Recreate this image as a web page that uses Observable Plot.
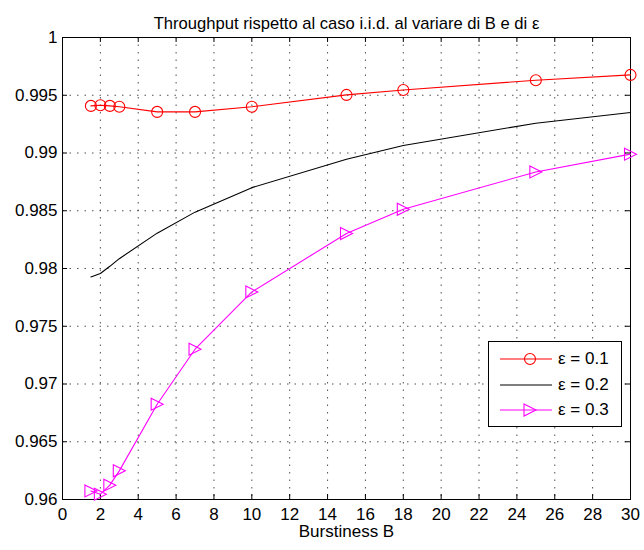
<!DOCTYPE html>
<html>
<head>
<meta charset="utf-8">
<script src="https://cdn.jsdelivr.net/npm/d3@7"></script>
<script src="https://cdn.jsdelivr.net/npm/@observablehq/plot@0.6"></script>
<style>
  html, body { margin: 0; padding: 0; background: #fff; }
  #wrap { position: relative; width: 644px; height: 550px; font-family: "Liberation Sans", Arial, sans-serif; }
  #legend { position: absolute; left: 488px; top: 341px; width: 132px; height: 84px; border: 1px solid #000; background: #fff; }
  #legend .row { position: absolute; left: 0; height: 20px; display: flex; align-items: center; }
  #legend .row span { font-size: 17px; color: #000; margin-left: 6px; }
</style>
</head>
<body>
<div id="wrap"></div>
<script>
const titleText = "Throughput rispetto al caso i.i.d. al variare di B e di ε";
const xLabel = "Burstiness B";
const B = [1.5, 2, 2.5, 3, 5, 7, 10, 15, 18, 25, 30];
const eps01 = [0.99408, 0.99414, 0.99408, 0.99400, 0.99356, 0.99356, 0.99400, 0.99503, 0.99546, 0.99630, 0.99676];
const eps02 = [0.97927, 0.97957, 0.98019, 0.98085, 0.98306, 0.98488, 0.98700, 0.98946, 0.99065, 0.99258, 0.99351];
const eps03 = [0.96074, 0.96046, 0.96124, 0.96248, 0.96825, 0.97301, 0.97797, 0.98303, 0.98513, 0.98836, 0.98990];
const seriesNames = ["ε = 0.1", "ε = 0.2", "ε = 0.3"];
const xTicks = d3.range(0, 31, 2);
const yTicks = [0.96, 0.965, 0.97, 0.975, 0.98, 0.985, 0.99, 0.995, 1];

const W = 644, H = 550, mT = 37, mB = 51, mL = 62, mR = 14;
const fH = H - mT - mB, fW = W - mL - mR;
const tick = 5;

const d1 = B.map((b, i) => ({x: b, y: eps01[i]}));
const d2 = B.map((b, i) => ({x: b, y: eps02[i]}));
const d3s = B.map((b, i) => ({x: b, y: eps03[i]}));

const triRight = {
  draw(ctx, size) {
    const s = Math.sqrt(size / Math.PI);
    ctx.moveTo(-s, -s);
    ctx.lineTo(s, 0);
    ctx.lineTo(-s, s);
    ctx.closePath();
  }
};

const fmt = d => String(+d.toFixed(3));

const chart = Plot.plot({
  width: W, height: H,
  marginTop: mT, marginBottom: mB, marginLeft: mL, marginRight: mR,
  style: {fontFamily: "'Liberation Sans', Arial, sans-serif", fontSize: "17px", background: "#fff", color: "#000"},
  x: {domain: [0, 30]},
  y: {domain: [0.96, 1]},
  marks: [
    Plot.ruleX(xTicks, {x: d => d, stroke: "#333", strokeOpacity: 0.85, strokeWidth: 1, strokeDasharray: "1.5,6"}),
    Plot.ruleY(yTicks, {y: d => d, stroke: "#333", strokeOpacity: 0.85, strokeWidth: 1, strokeDasharray: "1.5,6"}),
    Plot.tickX(xTicks, {x: d => d, insetTop: fH - tick, stroke: "#000"}),
    Plot.tickX(xTicks, {x: d => d, insetBottom: fH - tick, stroke: "#000"}),
    Plot.tickY(yTicks, {y: d => d, insetRight: fW - tick, stroke: "#000"}),
    Plot.tickY(yTicks, {y: d => d, insetLeft: fW - tick, stroke: "#000"}),
    Plot.axisX(xTicks, {tickSize: 0, tickPadding: 8, label: null, fontSize: 17}),
    Plot.axisY(yTicks, {tickSize: 0, tickPadding: 5, label: null, tickFormat: fmt, fontSize: 17}),
    Plot.frame({stroke: "#000"}),
    Plot.line(d1, {x: "x", y: "y", stroke: "#ff0000", strokeWidth: 1.1}),
    Plot.dot(d1, {x: "x", y: "y", r: 5.5, stroke: "#ff0000", fill: "none", strokeWidth: 1.1}),
    Plot.line(d2, {x: "x", y: "y", stroke: "#000", strokeWidth: 1.1}),
    Plot.line(d3s, {x: "x", y: "y", stroke: "#ff00ff", strokeWidth: 1.1}),
    Plot.dot(d3s, {x: "x", y: "y", r: 6, symbol: triRight, stroke: "#ff00ff", fill: "none", strokeWidth: 1.1}),
    Plot.text([titleText], {frameAnchor: "top", dy: -20.5, fontSize: 16.6, fill: "#000"}),
    Plot.text([xLabel], {frameAnchor: "bottom", dy: 37.5, fontSize: 17, fill: "#000"})
  ]
});
const wrap = document.getElementById("wrap");
wrap.appendChild(chart);

// legend
const legend = document.createElement("div");
legend.id = "legend";
const colors = ["#ff0000", "#000", "#ff00ff"];
const symbols = ["circle", null, "tri"];
seriesNames.forEach((name, i) => {
  const row = document.createElement("div");
  row.className = "row";
  row.style.top = (7 + i * 25.7) + "px";
  let sym = "";
  if (symbols[i] === "circle") sym = `<circle cx="30" cy="10" r="5.5" fill="none" stroke="${colors[i]}" stroke-width="1.1"/>`;
  if (symbols[i] === "tri") sym = `<path d="M24,4 L36,10 L24,16 Z" fill="none" stroke="${colors[i]}" stroke-width="1.1"/>`;
  row.innerHTML = `<svg width="64" height="20" style="margin-left:11px"><line x1="0" y1="10" x2="52" y2="10" stroke="${colors[i]}" stroke-width="1.1"/>${sym}</svg><span>${name}</span>`;
  row.querySelector("svg").style.marginRight = "-12px";
  legend.appendChild(row);
});
wrap.appendChild(legend);
</script>
</body>
</html>
